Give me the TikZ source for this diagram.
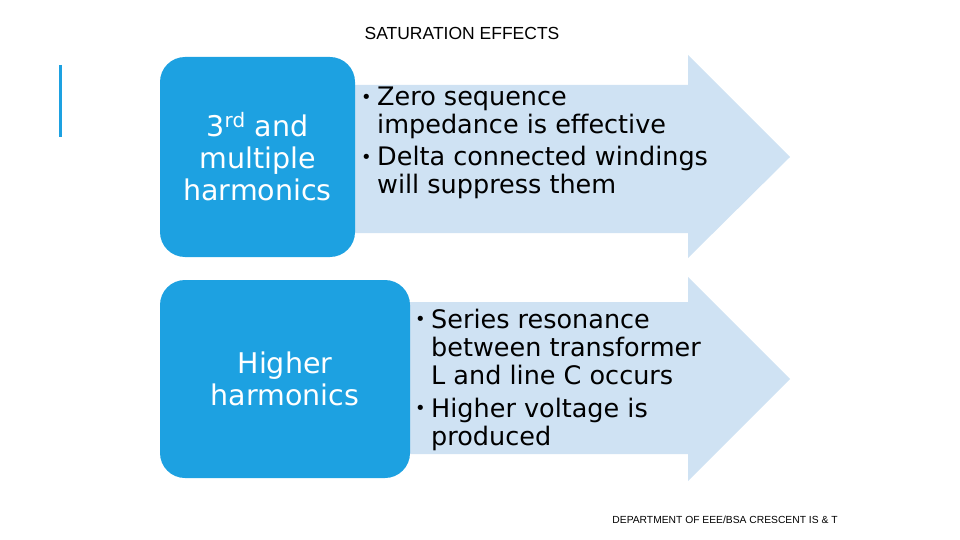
\documentclass[tikz,border=0pt]{standalone}
\usepackage{fontspec}
\setmainfont{DejaVu Sans}
\newfontfamily\headfont{Liberation Sans}
\usetikzlibrary{positioning}
\definecolor{keyblue}{HTML}{1DA1E1}
\definecolor{pointblue}{HTML}{CFE2F3}
\newcommand{\pt}[1]{\makebox[16pt][l]{\raisebox{0.08em}{\scalebox{0.7}{\textbullet}}}#1}
\newcommand{\ptcont}[1]{\hspace*{16pt}#1}

\begin{document}
\begin{tikzpicture}[x=1pt,y=-1pt,
    keybox/.style={fill=keyblue,rounded corners=25pt,text=white,align=center,
                   inner sep=0pt,font=\fontsize{28.5}{32}\selectfont},
    pointtext/.style={anchor=west,align=left,inner sep=0pt,
                      font=\fontsize{25.5}{28}\selectfont},
    pointarrow/.style={fill=pointblue}]
   \useasboundingbox (0,0) rectangle (960,540);
   \node[font=\headfont\fontsize{17.5}{20}\selectfont] (title) at (462,33) {SATURATION EFFECTS};
   \draw[keyblue,line width=3pt] (60,65) -- (60,137);
   % arrows
   \fill[pointarrow] (340,85) -- (688,85) -- (688,55) -- (790,157)
        -- (688,258) -- (688,233) -- (340,233) -- cycle;
   \fill[pointarrow] (380,302) -- (688,302) -- (688,277) -- (790,379)
        -- (688,481) -- (688,454) -- (380,454) -- cycle;
   % keys
   \node[keybox,minimum width=195,minimum height=200] (thirdkey) at (257.5,157)
        {3\textsuperscript{rd} and\\multiple\\harmonics};
   \node[keybox,minimum width=250,minimum height=198] (higherkey) at (285,379)
        {Higher\\harmonics};
   % points
   \node[pointtext] (thirdpts) at (361,143)
        {\pt{Zero sequence}\\\ptcont{impedance is effective}\\[4pt]
         \pt{Delta connected windings}\\\ptcont{will suppress them}};
   \node[pointtext] (higherpts) at (415,379.5)
        {\pt{Series resonance}\\\ptcont{between transformer}\\\ptcont{L and line C occurs}\\[5pt]
         \pt{Higher voltage is}\\\ptcont{produced}};
   \node[font=\headfont\fontsize{10.3}{12}\selectfont] (dept) at (725,520)
        {DEPARTMENT OF EEE/BSA CRESCENT IS \& T};
\end{tikzpicture}
\end{document}
